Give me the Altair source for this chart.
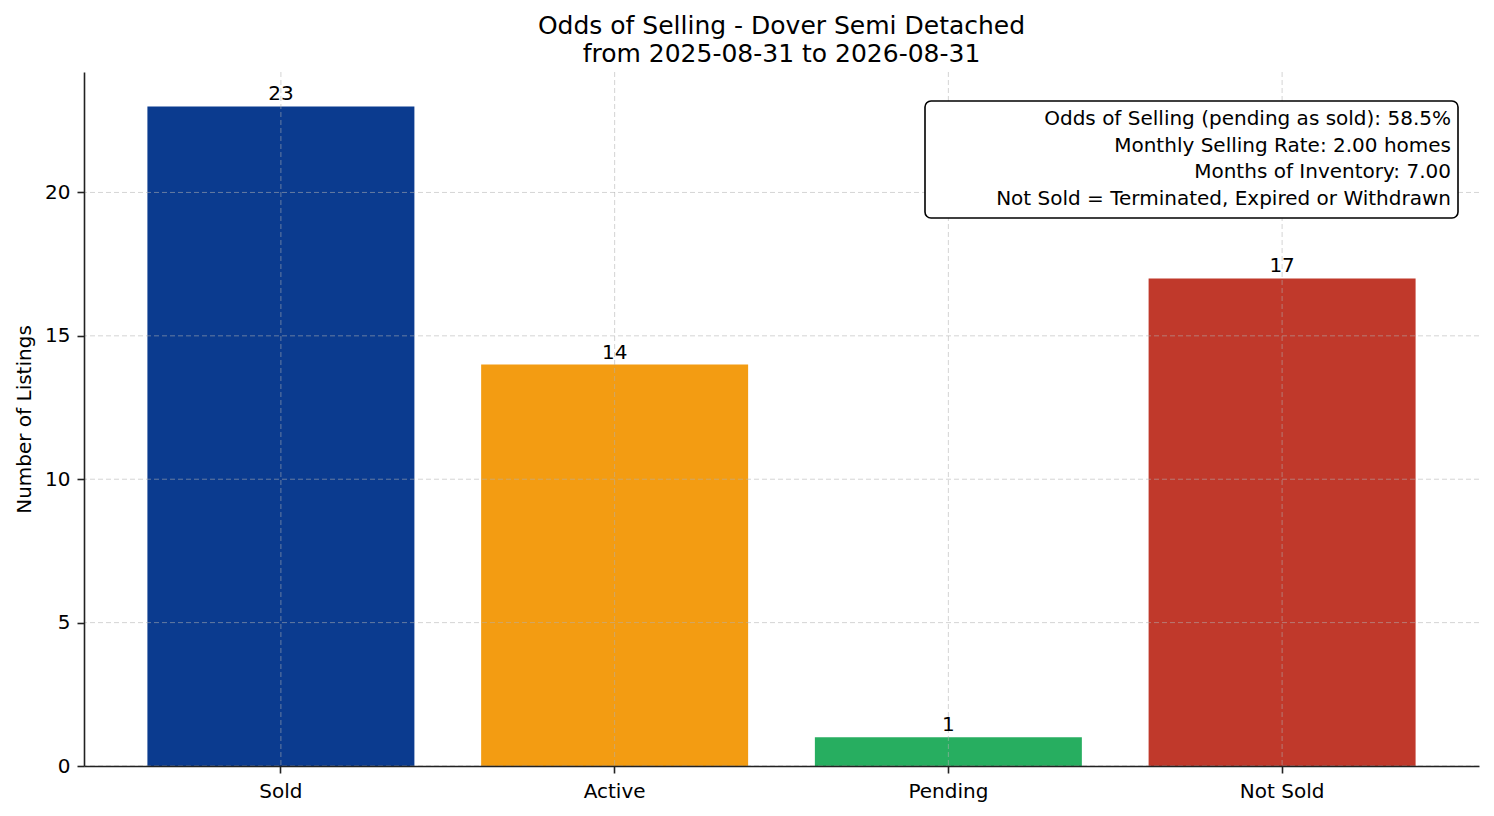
import pandas as pd
import altair as alt

# Data
categories = ["Sold", "Active", "Pending", "Not Sold"]
counts = [23, 14, 1, 17]
bar_colors = ["#0B3B8F", "#F39C12", "#27AE60", "#C0392B"]
y_ticks = [0, 5, 10, 15, 20]
title_lines = ["Odds of Selling - Dover Semi Detached", "from 2025-08-31 to 2026-08-31"]
info_lines = [
    "Odds of Selling (pending as sold): 58.5%",
    "Monthly Selling Rate: 2.00 homes",
    "Months of Inventory: 7.00",
    "Not Sold = Terminated, Expired or Withdrawn",
]

df = pd.DataFrame({"status": categories, "count": counts})
grid_y = pd.DataFrame({"count": y_ticks})
grid_x = pd.DataFrame({"status": categories})

W, H = 1395, 694
FONT = "DejaVu Sans"
GRID = dict(strokeDash=[5, 3], color="#b0b0b0", opacity=0.55, strokeWidth=1)

x_enc = alt.X(
    "status:N",
    sort=categories,
    title="",
    scale=alt.Scale(paddingInner=0.2, paddingOuter=0.19),
    axis=alt.Axis(
        labelAngle=0, labelFontSize=20, labelPadding=8, labelColor="black",
        tickSize=7, tickWidth=1.6, tickColor="#222", bandPosition=0.5,
        domainColor="#222", domainWidth=1.6, grid=False, zindex=1,
    ),
)
y_enc = alt.Y(
    "count:Q",
    title="Number of Listings",
    scale=alt.Scale(domain=[0, 24.2], nice=False, zero=True),
    axis=alt.Axis(
        values=y_ticks, labelFontSize=20, labelPadding=7, labelColor="black",
        tickSize=7, tickWidth=1.6, tickColor="#222",
        domainColor="#222", domainWidth=1.6,
        titleFontSize=20, titleFontWeight="normal", titlePadding=10, titleColor="black",
        grid=False, zindex=1,
    ),
)

bars = alt.Chart(df).mark_bar().encode(
    x=x_enc,
    y=y_enc,
    color=alt.Color("status:N", scale=alt.Scale(domain=categories, range=bar_colors), legend=None),
)

# dashed grid drawn over the bars, under the info box
hgrid = alt.Chart(grid_y).mark_rule(**GRID).encode(y=alt.Y("count:Q", title="Number of Listings"))
vgrid = alt.Chart(grid_x).mark_rule(**GRID).encode(x=alt.X("status:N", sort=categories, title=""))

labels = alt.Chart(df).mark_text(baseline="bottom", dy=-2, fontSize=20, color="black", font=FONT).encode(
    x=alt.X("status:N", sort=categories, title=""),
    y=alt.Y("count:Q", title="Number of Listings"),
    text="count:Q",
)

info_data = alt.Data(values=[{"k": 1}])
box = alt.Chart(info_data).mark_rect(
    fill="white", stroke="black", strokeWidth=1.6, cornerRadius=6
).encode(
    x=alt.value(841), x2=alt.value(1374), y=alt.value(29), y2=alt.value(146)
)
info = alt.Chart(info_data).mark_text(
    text=info_lines, align="right", baseline="middle", lineHeight=26.7,
    fontSize=20, color="black", font=FONT,
).encode(x=alt.value(1367), y=alt.value(47))

chart = (
    alt.layer(bars, hgrid, vgrid, labels, box, info)
    .properties(
        width=W, height=H,
        title=alt.TitleParams(
            text=title_lines, fontSize=25, fontWeight="normal", font=FONT,
            anchor="middle", lineHeight=28, offset=5, color="black",
        ),
        autosize=alt.AutoSizeParams(type="none"),
        padding={"left": 76, "top": 64, "right": 7, "bottom": 42},
    )
    .configure(font=FONT)
    .configure_view(strokeWidth=0)
)

chart.save("out.html", embed_options={"renderer": "svg", "actions": False})
